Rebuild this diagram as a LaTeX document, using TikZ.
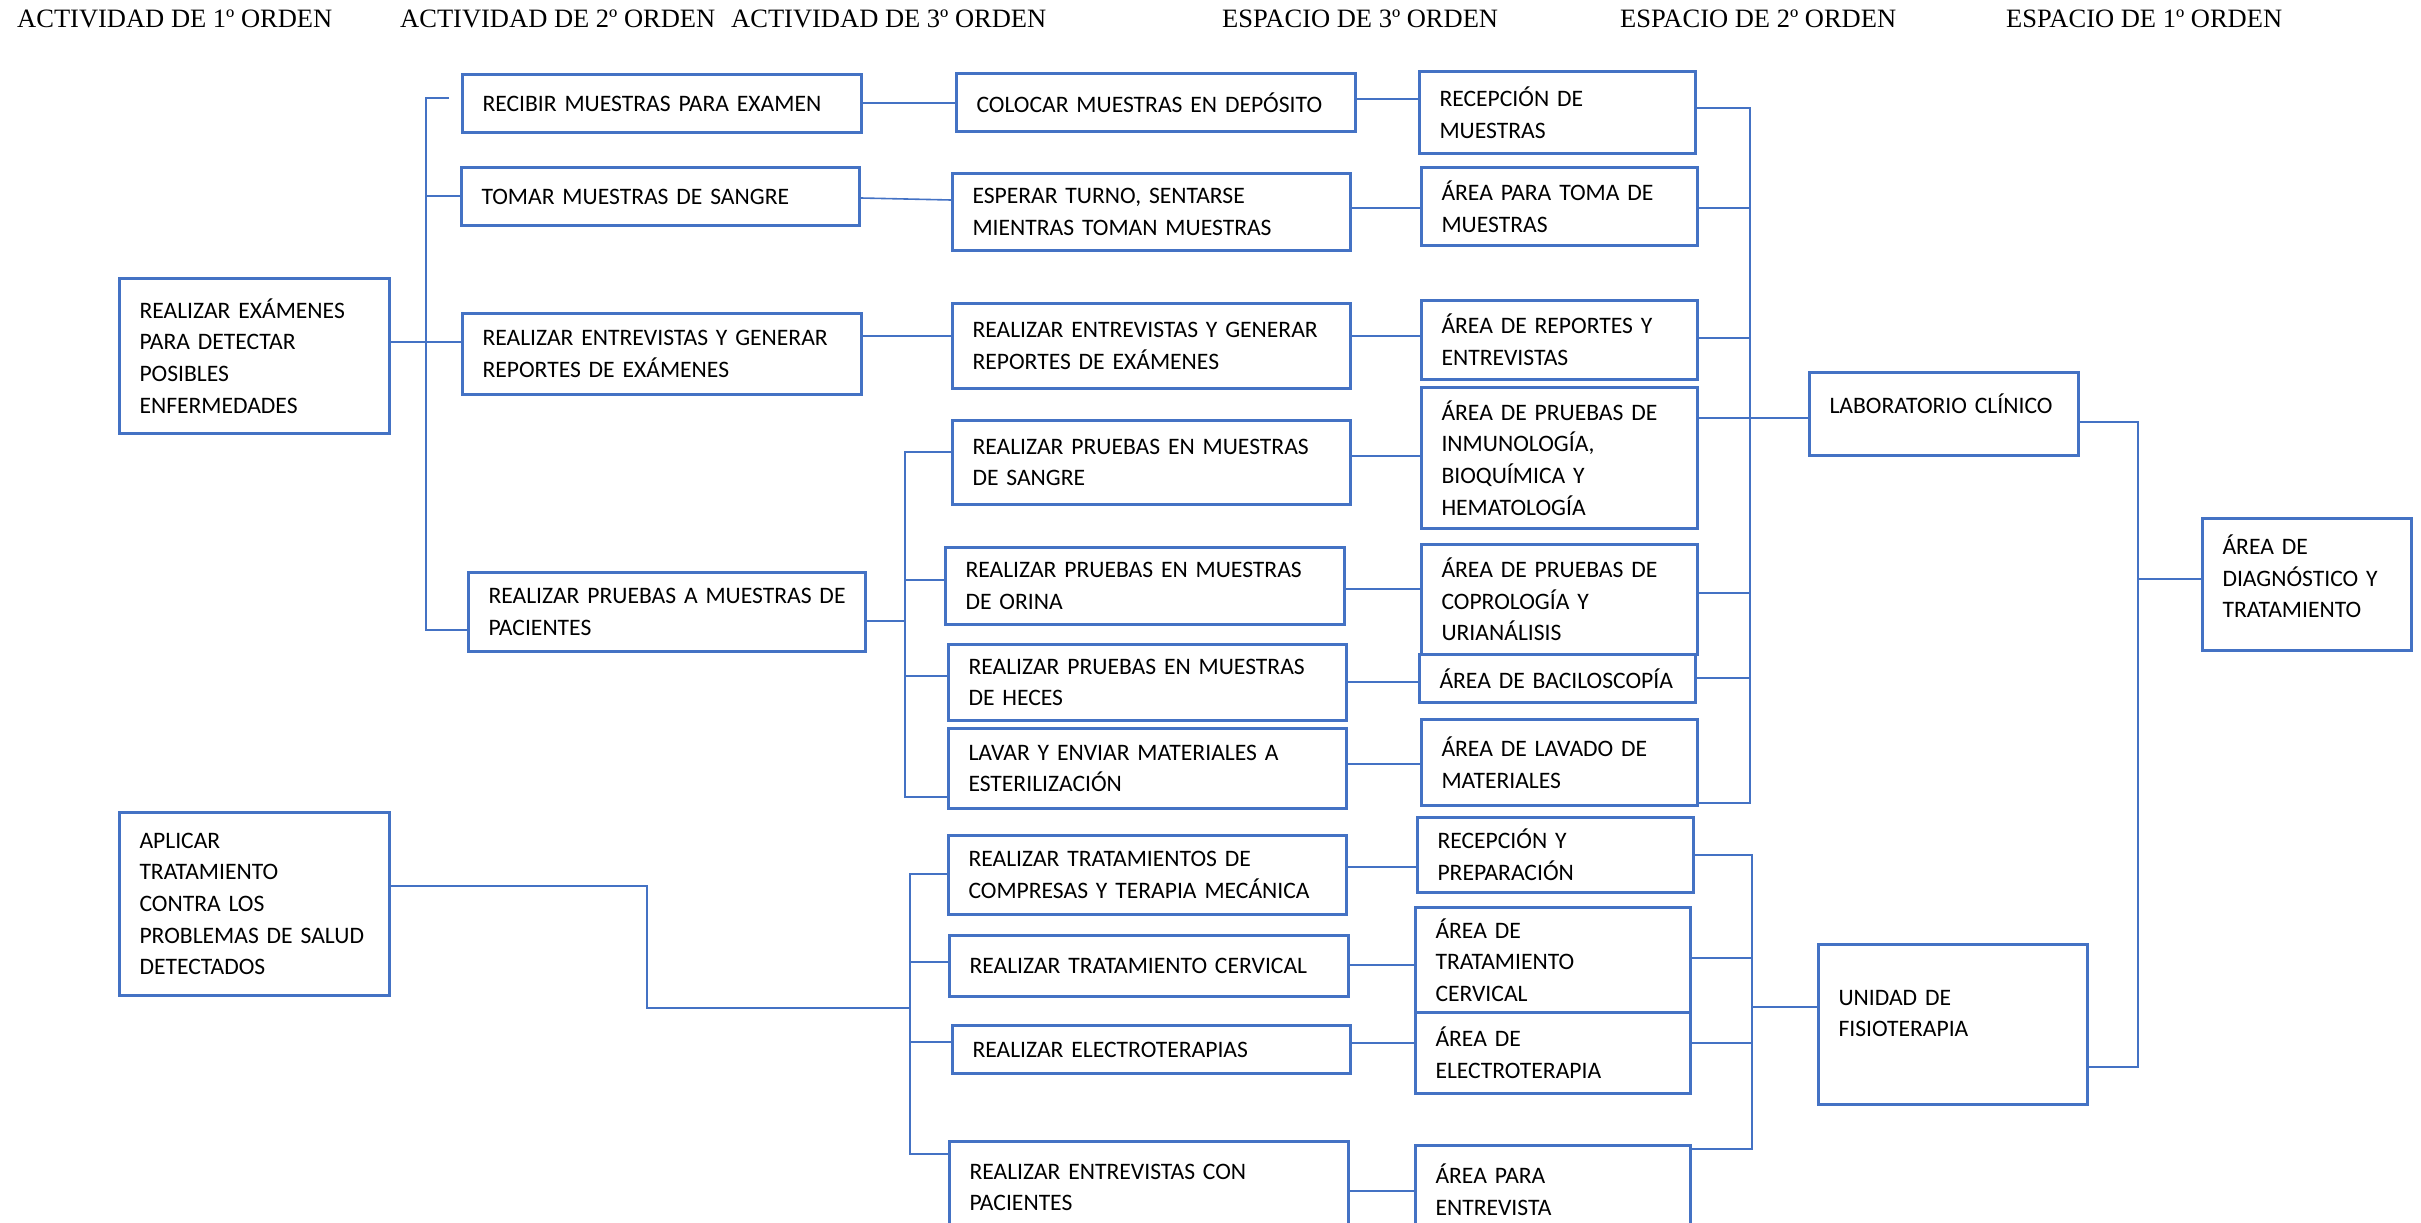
\documentclass[tikz,border=0pt]{standalone}
\usepackage{fontspec}
\newfontfamily\boxfont{Carlito}
\newfontfamily\headfont{Liberation Serif}
\definecolor{officeblue}{HTML}{4472C4}
\tikzset{
  box/.style={draw=officeblue, line width=3pt, anchor=north west, inner xsep=20pt,
    inner ysep=0pt, align=left, text=black,
    font=\boxfont\fontsize{23.6}{31.7}\selectfont},
  link/.style={draw=officeblue, line width=1.6pt},
  head/.style={anchor=base west, inner sep=0pt, text=black,
    font=\headfont\fontsize{26.5}{30}\selectfont},
}
% \boxat{name}{left}{top}{right}{bottom}{text}
\newcommand\boxat[6]{%
  \pgfmathsetmacro\bxw{#4-#2}%
  \pgfmathsetmacro\bxh{#5-#3}%
  \pgfmathsetmacro\bxt{#4-#2-40}%
  \node[box, minimum width=\bxw pt, minimum height=\bxh pt, text width=\bxt pt] (#1) at (#2,#3) {#6};}
\begin{document}
\begin{tikzpicture}[x=1pt, y=-1pt]
\useasboundingbox (0,0) rectangle (2421,1223);

% column headings
\node[head] (h1) at (17,28)   {ACTIVIDAD DE 1º ORDEN};
\node[head] (h2) at (400,28)  {ACTIVIDAD DE 2º ORDEN};
\node[head] (h3) at (731,28)  {ACTIVIDAD DE 3º ORDEN};
\node[head] (h4) at (1222,28) {ESPACIO DE 3º ORDEN};
\node[head] (h5) at (1620,28) {ESPACIO DE 2º ORDEN};
\node[head] (h6) at (2006,28) {ESPACIO DE 1º ORDEN};

% first-order activities
\boxat{a1}{118}{277}{388}{432}{REALIZAR EXÁMENES\\PARA DETECTAR\\POSIBLES\\ENFERMEDADES}
\boxat{a2}{118}{811}{388}{994}{APLICAR\\TRATAMIENTO\\CONTRA LOS\\PROBLEMAS DE SALUD\\DETECTADOS}

% second-order activities
\boxat{b1}{461}{73}{860}{131}{RECIBIR MUESTRAS PARA EXAMEN}
\boxat{b2}{460}{166}{858}{224}{TOMAR MUESTRAS DE SANGRE}
\boxat{b3}{461}{312}{860}{393}{REALIZAR ENTREVISTAS Y GENERAR\\REPORTES DE EXÁMENES}
\boxat{b4}{467}{571}{864}{650}{\mbox{REALIZAR PRUEBAS A MUESTRAS DE}\\PACIENTES}

% third-order activities
\boxat{c1}{955}{72}{1354}{130}{COLOCAR MUESTRAS EN DEPÓSITO}
\boxat{c2}{951}{172}{1349}{249}{ESPERAR TURNO, SENTARSE\\MIENTRAS TOMAN MUESTRAS}
\boxat{c3}{951}{302}{1349}{387}{REALIZAR ENTREVISTAS Y GENERAR\\REPORTES DE EXÁMENES}
\boxat{c4}{951}{419}{1349}{503}{REALIZAR PRUEBAS EN MUESTRAS\\DE SANGRE}
\boxat{c5}{944}{546}{1343}{623}{REALIZAR PRUEBAS EN MUESTRAS\\DE ORINA}
\boxat{c6}{947}{643}{1345}{719}{REALIZAR PRUEBAS EN MUESTRAS\\DE HECES}
\boxat{c7}{947}{727}{1345}{807}{LAVAR Y ENVIAR MATERIALES A\\ESTERILIZACIÓN}
\boxat{c8}{947}{834}{1345}{913}{REALIZAR TRATAMIENTOS DE\\COMPRESAS Y TERAPIA MECÁNICA}
\boxat{c9}{948}{934}{1347}{995}{REALIZAR TRATAMIENTO CERVICAL}
\boxat{c10}{951}{1024}{1349}{1072}{REALIZAR ELECTROTERAPIAS}
\boxat{c11}{948}{1140}{1347}{1232}{REALIZAR ENTREVISTAS CON\\PACIENTES}

% third-order spaces
\boxat{s1}{1418}{70}{1694}{152}{RECEPCIÓN DE\\MUESTRAS}
\boxat{s2}{1420}{166}{1696}{244}{ÁREA PARA TOMA DE\\MUESTRAS}
\boxat{s3}{1420}{299}{1696}{378}{ÁREA DE REPORTES Y\\ENTREVISTAS}
\boxat{s4}{1420}{386}{1696}{527}{ÁREA DE PRUEBAS DE\\INMUNOLOGÍA,\\BIOQUÍMICA Y\\HEMATOLOGÍA}
\boxat{s5}{1420}{543}{1696}{653}{ÁREA DE PRUEBAS DE\\COPROLOGÍA Y\\URIANÁLISIS}
\boxat{s6}{1418}{653}{1694}{701}{\mbox{ÁREA DE BACILOSCOPÍA}}
\boxat{s7}{1420}{718}{1696}{804}{ÁREA DE LAVADO DE\\MATERIALES}
\boxat{s8}{1416}{816}{1692}{891}{RECEPCIÓN Y\\PREPARACIÓN}
\boxat{s9}{1414}{906}{1689}{1011}{ÁREA DE\\TRATAMIENTO\\CERVICAL}
\boxat{s10}{1414}{1011}{1689}{1092}{ÁREA DE\\ELECTROTERAPIA}
\boxat{s11}{1414}{1144}{1689}{1232}{ÁREA PARA\\ENTREVISTA}

% second- and first-order spaces
\boxat{lab}{1808}{371}{2077}{454}{LABORATORIO CLÍNICO\par\kern20pt}
\boxat{fis}{1817}{943}{2086}{1103}{UNIDAD DE\\FISIOTERAPIA\par\kern22pt}
\boxat{diag}{2201}{517}{2410}{649}{ÁREA DE\\DIAGNÓSTICO Y\\TRATAMIENTO\par\kern16pt}

% junction points of the bus lines
\coordinate (gapA) at (449,98);
\coordinate (jA1) at (426,98);   \coordinate (jA2) at (426,630);
\coordinate (jB1) at (905,452);  \coordinate (jB2) at (905,797);
\coordinate (jC1) at (1750,108); \coordinate (jC2) at (1750,803);
\coordinate (jD0) at (647,886);  \coordinate (jD1) at (647,1008);
\coordinate (jD2) at (910,874);  \coordinate (jD3) at (910,1154);
\coordinate (jE1) at (1752,855); \coordinate (jE2) at (1752,1149);
\coordinate (jF1) at (2138,422); \coordinate (jF2) at (2138,1067);

% examination branch
\draw[link] (a1.east |- 0,342) -- (b3.west |- 0,342);
\draw[link] (gapA) -- (jA1) -- (jA2) -- (b4.west |- jA2);
\draw[link] (jA1 |- 0,196) -- (b2.west |- 0,196);

\draw[link] (b1.east |- 0,103) -- (c1.west |- 0,103);
\draw[link] (b2.east |- 0,198) -- (c2.west |- 0,200);
\draw[link] (b3.east |- 0,336) -- (c3.west |- 0,336);

\draw[link] (b4.east |- 0,621) -- (jB1 |- 0,621);
\draw[link] (c4.west |- jB1) -- (jB1) -- (jB2) -- (c7.west |- jB2);
\draw[link] (jB1 |- 0,580) -- (c5.west |- 0,580);
\draw[link] (jB1 |- 0,676) -- (c6.west |- 0,676);

\draw[link] (c1.east |- 0,99)  -- (s1.west |- 0,99);
\draw[link] (c2.east |- 0,208) -- (s2.west |- 0,208);
\draw[link] (c3.east |- 0,336) -- (s3.west |- 0,336);
\draw[link] (c4.east |- 0,456) -- (s4.west |- 0,456);
\draw[link] (c5.east |- 0,589) -- (s5.west |- 0,589);
\draw[link] (c6.east |- 0,682) -- (s6.west |- 0,682);
\draw[link] (c7.east |- 0,764) -- (s7.west |- 0,764);

\draw[link] (s1.east |- jC1) -- (jC1) -- (jC2) -- (s7.east |- jC2);
\draw[link] (s2.east |- 0,208) -- (jC1 |- 0,208);
\draw[link] (s3.east |- 0,338) -- (jC1 |- 0,338);
\draw[link] (s4.east |- 0,418) -- (jC1 |- 0,418);
\draw[link] (s5.east |- 0,593) -- (jC1 |- 0,593);
\draw[link] (s6.east |- 0,678) -- (jC1 |- 0,678);
\draw[link] (jC1 |- 0,418) -- (lab.west |- 0,418);

% treatment branch
\draw[link] (a2.east |- jD0) -- (jD0) -- (jD1) -- (jD2 |- jD1);
\draw[link] (c8.west |- jD2) -- (jD2) -- (jD3) -- (c11.west |- jD3);
\draw[link] (jD2 |- 0,962)  -- (c9.west |- 0,962);
\draw[link] (jD2 |- 0,1042) -- (c10.west |- 0,1042);

\draw[link] (c8.east |- 0,867)   -- (s8.west |- 0,867);
\draw[link] (c9.east |- 0,965)   -- (s9.west |- 0,965);
\draw[link] (c10.east |- 0,1043) -- (s10.west |- 0,1043);
\draw[link] (c11.east |- 0,1191) -- (s11.west |- 0,1191);

\draw[link] (s8.east |- jE1) -- (jE1) -- (jE2) -- (s11.east |- jE2);
\draw[link] (s9.east |- 0,958)   -- (jE1 |- 0,958);
\draw[link] (s10.east |- 0,1043) -- (jE1 |- 0,1043);
\draw[link] (jE1 |- 0,1007) -- (fis.west |- 0,1007);

% first-order space
\draw[link] (lab.east |- jF1) -- (jF1) -- (jF2) -- (fis.east |- jF2);
\draw[link] (jF1 |- 0,579) -- (diag.west |- 0,579);
\end{tikzpicture}
\end{document}
